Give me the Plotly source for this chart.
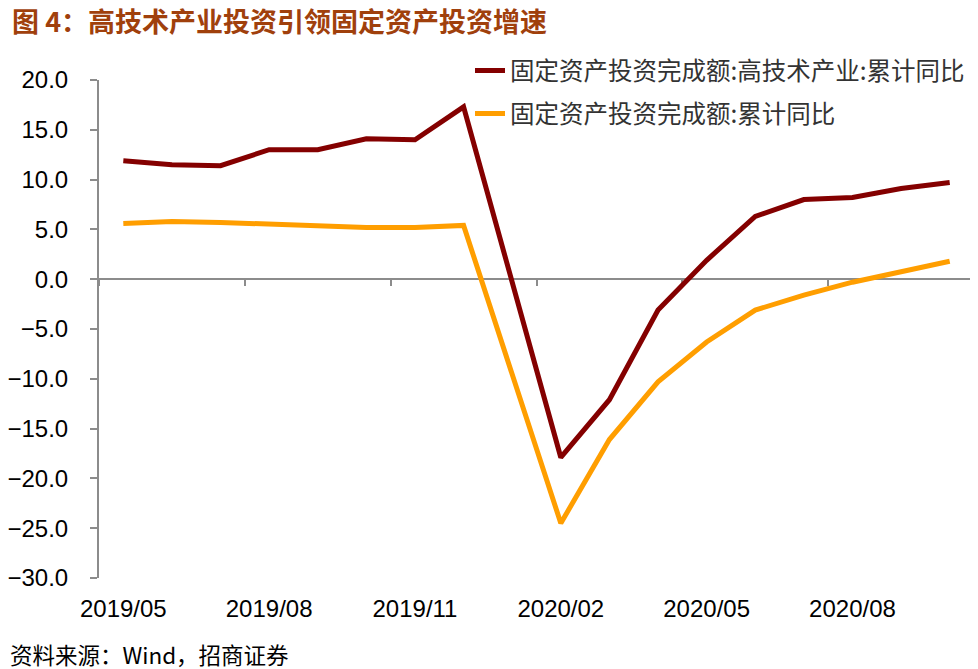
import plotly.graph_objects as go

categories = ["2019/05", "2019/06", "2019/07", "2019/08", "2019/09", "2019/10",
              "2019/11", "2019/12", "2020/01", "2020/02", "2020/03", "2020/04",
              "2020/05", "2020/06", "2020/07", "2020/08", "2020/09", "2020/10"]
hightech = [11.9, 11.5, 11.4, 13.0, 13.0, 14.1, 14.0, 17.3, None, -17.9, -12.1,
            -3.1, 1.9, 6.3, 8.0, 8.2, 9.1, 9.7]
fai_total = [5.6, 5.8, 5.7, 5.5, 5.4, 5.2, 5.2, 5.4, None, -24.5, -16.1,
             -10.3, -6.3, -3.1, -1.6, -0.3, 0.8, 1.8]
name_hightech = "固定资产投资完成额:高技术产业:累计同比"
name_total = "固定资产投资完成额:累计同比"
title_text = "图 4：高技术产业投资引领固定资产投资增速"
source_text = "资料来源：Wind，招商证券"

tick_step = 3
label_ticks = categories[::tick_step]
n = len(categories)
boundary_ticks = [i - 0.5 for i in range(0, n + 1, tick_step)]

fig = go.Figure()
fig.add_trace(go.Scatter(x=categories, y=hightech, name=name_hightech, mode="lines",
                         line=dict(color="#840000", width=5), connectgaps=True,
                         legendgroup="a"))
fig.add_trace(go.Scatter(x=categories, y=fai_total, name=name_total, mode="lines",
                         line=dict(color="#FF9E00", width=5), connectgaps=True,
                         legendgroup="b"))

axis_gray = "#8C8C8C"
lab_font = dict(family="Liberation Sans, Arial", size=24, color="#000000")
cjk = "Noto Sans CJK SC"

# page body has an 8px margin; figure is sized/offset to compensate
W, H = 970, 661
ml, mt, pw, ph = 91, 72, 875, 498

fig.update_layout(
    width=W, height=H,
    margin=dict(l=ml, r=W - ml - pw, t=mt, b=H - mt - ph, autoexpand=False),
    paper_bgcolor="white", plot_bgcolor="white",
    showlegend=True,
    legend=dict(x=0.424, y=1.064, xanchor="left", yanchor="top",
                font=dict(family=cjk, size=24.5, color="#333333"),
                bgcolor="rgba(0,0,0,0)", tracegroupgap=8,
                itemwidth=30),
    xaxis=dict(type="category", categoryorder="array", categoryarray=categories,
               range=[-0.5, n - 0.5], tickvals=label_ticks, ticks="",
               showline=False, showgrid=False, zeroline=False, automargin=False,
               tickfont=lab_font, ticklabelstandoff=14),
    xaxis2=dict(overlaying="x", anchor="free", position=0.6, side="bottom",
                range=[-0.5, n - 0.5], tickvals=boundary_ticks, ticks="outside",
                ticklen=6, tickwidth=2, tickcolor=axis_gray, automargin=False,
                showticklabels=False, showline=True, linecolor=axis_gray,
                linewidth=2, showgrid=False, zeroline=False, layer="below traces"),
    yaxis=dict(range=[-30, 20], dtick=5, tick0=0, tickformat=".1f",
               showline=True, linecolor=axis_gray, linewidth=2, automargin=False,
               ticks="outside", ticklen=7, tickwidth=2, tickcolor=axis_gray,
               showgrid=False, zeroline=False, tickfont=lab_font,
               ticklabelstandoff=17),
)

fig.add_trace(go.Scatter(x=[boundary_ticks[0], boundary_ticks[-1]], y=[0, 0],
                         xaxis="x2", mode="lines", line=dict(width=0),
                         hoverinfo="skip", showlegend=False, opacity=0))

fig.add_annotation(text="<b>" + title_text + "</b>", xref="paper", yref="paper",
                   x=-(ml - 2) / pw, y=1 + (mt - 12) / ph, xanchor="left", yanchor="middle",
                   showarrow=False, font=dict(family=cjk, size=27, color="#A0400C"))

fig.add_annotation(text=source_text, xref="paper", yref="paper",
                   x=-ml / pw, y=-(646 - (mt + ph)) / ph, xanchor="left", yanchor="middle",
                   showarrow=False, font=dict(family=cjk, size=22.5, color="#000000"))

fig.write_html("out.html")
